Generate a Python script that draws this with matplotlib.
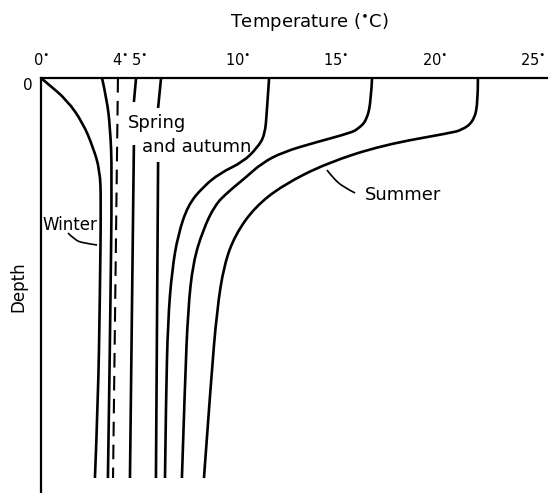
import matplotlib.pyplot as plt
from matplotlib.path import Path
from matplotlib.patches import PathPatch

plt.rcParams['font.family'] = 'DejaVu Sans'
plt.rcParams['mathtext.fontset'] = 'dejavusans'

# temperature (deg C) and depth (relative, 0 = surface)
winter_t = [0, 0.30, 1.32, 2.13, 2.64, 2.99, 3.05, 2.99, 2.90, 2.74]
winter_d = [0, 1.25, 5.5, 11.25, 17.25, 23, 30.5, 55.5, 80.5, 100]

cold_t = [3.10, 3.35, 3.51, 3.61, 3.51, 3.46, 3.40]
cold_d = [0, 5.5, 12.25, 23, 63, 80.5, 100]

max_density_t = [3.91, 3.66]
max_density_d = [0, 100]

spring_a_t = [4.83, 4.72, 4.52]
spring_a_d = [0, 16.75, 100]
spring_b_t = [6.10, 5.95, 5.84]
spring_b_d = [0, 21, 100]

warm1_t = [11.59, 11.48, 11.38, 10.98, 10.26, 9.10, 8.23, 7.47, 6.96, 6.66, 6.45, 6.35, 6.30]
warm1_d = [0, 8, 14.25, 17.5, 21, 23.75, 27.25, 31.75, 39.25, 48, 60.5, 80.5, 100]

warm2_t = [16.82, 16.77, 16.56, 16.11, 15.70, 14.02, 12.30, 11.23, 10.37, 9.50, 8.84, 8.23, 7.72, 7.47, 7.32, 7.16]
warm2_d = [0, 5.5, 10.5, 12.75, 13.75, 16, 18.5, 21.25, 25, 28.5, 31.75, 38, 46.25, 58, 75.5, 100]

summer_t = [22.20, 22.20, 21.95, 21.39, 20.78, 17.38, 14.53, 12.30, 10.87, 9.86, 9.30, 8.94, 8.64, 8.28]
summer_d = [0, 6.75, 11, 13, 13.75, 16.75, 21.25, 26.75, 32.25, 39.25, 46.75, 58, 75.5, 100]

tick_vals = [0, 4, 5, 10, 15, 20, 25]
tick_marks = [10, 15, 20, 25]


def smooth_curve(ax, xs, ys, lw=1.9):
    # quadratic bezier through midpoints, read points act as control points
    pts = list(zip(xs, ys))
    verts = [pts[0]]
    codes = [Path.MOVETO]
    for i in range(1, len(pts) - 1):
        mid = ((pts[i][0] + pts[i+1][0]) / 2, (pts[i][1] + pts[i+1][1]) / 2)
        if i == len(pts) - 2:
            mid = pts[-1]
        verts += [pts[i], mid]
        codes += [Path.CURVE3, Path.CURVE3]
    if len(pts) == 2:
        verts.append(pts[1])
        codes.append(Path.LINETO)
    ax.add_patch(PathPatch(Path(verts, codes), fill=False, edgecolor='black',
                           lw=lw, capstyle='butt', joinstyle='round'))


fig = plt.figure(figsize=(5.51, 4.93), dpi=100)
ax = fig.add_axes([41/551, 0, 506/551, 415/493])

kw = dict(color='black', lw=1.9, solid_capstyle='butt')
smooth_curve(ax, winter_t, winter_d)
smooth_curve(ax, cold_t, cold_d)
ax.plot(max_density_t, max_density_d, color='black', lw=1.5, dashes=(7, 4))

# the two straight spring/autumn lines are broken where the label sits
ax.plot(spring_a_t[:2], [spring_a_d[0], 6], **kw)
ax.plot(spring_a_t[1:], spring_a_d[1:], **kw)
ax.plot(spring_b_t[:2], [spring_b_d[0], 7.5], **kw)
ax.plot(spring_b_t[1:], spring_b_d[1:], **kw)

smooth_curve(ax, warm1_t, warm1_d)
smooth_curve(ax, warm2_t, warm2_d)
smooth_curve(ax, summer_t, summer_d)

ax.set_xlim(0, 25.71)
ax.set_ylim(103.75, 0)

for s in ['right', 'bottom']:
    ax.spines[s].set_visible(False)
for s in ['top', 'left']:
    ax.spines[s].set_linewidth(1.6)

ax.xaxis.tick_top()
ax.set_xticks(tick_vals)
ax.set_xticklabels([str(v) + r'$^{\bullet}$' for v in tick_vals], fontsize=10.5)
ax.tick_params(axis='x', which='major', length=0, pad=7)
ax.set_xticks(tick_marks, minor=True)
ax.tick_params(axis='x', which='minor', direction='in', length=11, width=1.5)

ax.set_yticks([0])
ax.set_yticklabels(['0'], fontsize=11)
ax.tick_params(axis='y', length=0, pad=6)
for lab in ax.get_yticklabels():
    lab.set_va('top')

ax.text(4.42, 12.5, 'Spring', fontsize=13, va='baseline', ha='left')
ax.text(5.13, 18.5, 'and autumn', fontsize=13, va='baseline', ha='left')
ax.text(0.05, 38, 'Winter', fontsize=12, va='baseline', ha='left')
ax.text(16.46, 30.5, 'Summer', fontsize=13, va='baseline', ha='left')

# little curved leader lines
smooth_curve(ax, [1.37, 1.73, 2.13, 2.85], [38.75, 40.5, 41.25, 41.75], lw=1.2)
smooth_curve(ax, [14.53, 14.84, 15.35, 15.96], [23, 25, 27.25, 28.75], lw=1.2)

fig.text(309/551, 1 - 22/493, r'Temperature ($^{\bullet}$C)', fontsize=13, ha='center', va='center')
fig.text(18/551, 1 - 287/493, 'Depth', fontsize=12, rotation=90, ha='center', va='center')

fig.savefig('out.png', dpi=100)
